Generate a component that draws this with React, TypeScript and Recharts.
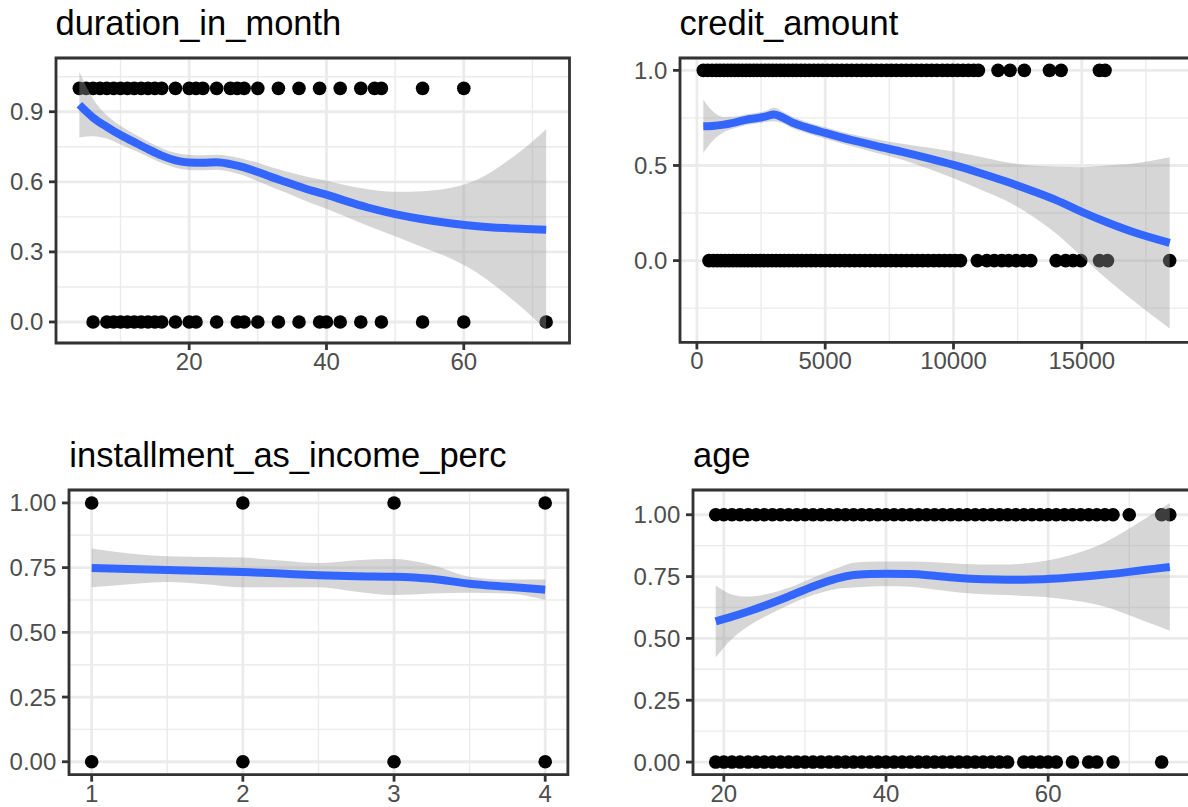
import React from "react";
import {
	ComposedChart,
	Scatter,
	Line,
	Area,
	XAxis,
	YAxis,
	CartesianGrid,
	ReferenceLine,
	ReferenceArea,
} from "recharts";

// ---- duration_in_month ----
const durationOnes = [4, 5, 6, 7, 8, 9, 10, 11, 12, 13, 14, 15, 16, 18, 20, 21, 22, 24, 26, 27, 28, 30, 33, 36, 39, 42, 45, 47, 48, 54, 60];
const durationZeros = [6, 8, 9, 10, 11, 12, 13, 14, 15, 16, 18, 20, 21, 24, 27, 28, 30, 33, 36, 39, 40, 42, 45, 48, 54, 60, 72];
const durationX = [4, 6, 8, 10, 12, 14, 16, 18, 20, 22, 24, 26, 28, 30, 32, 34, 36, 38, 40, 43, 46, 50, 54, 58, 62, 66, 69, 72];
const durationFit = [0.93, 0.875, 0.835, 0.8, 0.77, 0.74, 0.712, 0.692, 0.683, 0.682, 0.684, 0.676, 0.662, 0.642, 0.62, 0.6, 0.58, 0.561, 0.545, 0.516, 0.49, 0.462, 0.44, 0.423, 0.41, 0.402, 0.398, 0.395];
const durationLow = [0.79, 0.795, 0.785, 0.76, 0.735, 0.707, 0.68, 0.66, 0.651, 0.65, 0.652, 0.643, 0.627, 0.602, 0.578, 0.555, 0.53, 0.506, 0.485, 0.448, 0.412, 0.367, 0.32, 0.273, 0.21, 0.122, 0.048, -0.035];
const durationHigh = [1.07, 0.955, 0.885, 0.84, 0.805, 0.773, 0.744, 0.724, 0.715, 0.714, 0.716, 0.709, 0.697, 0.682, 0.662, 0.645, 0.63, 0.616, 0.605, 0.584, 0.568, 0.557, 0.56, 0.573, 0.61, 0.682, 0.748, 0.825];

// ---- credit_amount ----
const creditOnes = [
	250, 420, 590, 760, 900, 1050, 1200, 1340, 1480, 1620, 1770, 1920, 2060, 2210, 2350, 2500, 2660, 2800, 2950, 3100,
	3260, 3410, 3570, 3730, 3880, 4050, 4210, 4380, 4560, 4730, 4900, 5090, 5280, 5460, 5650, 5840, 6030, 6230, 6420,
	6610, 6800, 7000, 7190, 7390, 7580, 7770, 7970, 8160, 8360, 8560, 8750, 8950, 9150, 9350, 9570, 9760, 9960, 10160,
	10370, 10580, 10790, 10970, 11735, 12204, 12760, 13740, 14194, 15686, 15906,
];
const creditZeros = [
	470, 640, 800, 950, 1100, 1250, 1400, 1550, 1700, 1850, 2000, 2150, 2300, 2460, 2610, 2770, 2930, 3090, 3250, 3410,
	3580, 3750, 3920, 4090, 4270, 4450, 4630, 4820, 5000, 5190, 5380, 5570, 5760, 5950, 6150, 6350, 6550, 6750, 6950,
	7150, 7350, 7560, 7760, 7970, 8170, 8380, 8590, 8800, 9010, 9230, 9440, 9650, 9860, 10060, 10272, 10930, 11300,
	11590, 11880, 12150, 12440, 12730, 13010, 14000, 14370, 14660, 14960, 15690, 16000, 18424,
];
const creditX = [250, 600, 1050, 1500, 1900, 2400, 2700, 3000, 3300, 3700, 4200, 5000, 6000, 7000, 8000, 9000, 10000, 11000, 12000, 13000, 14000, 15000, 16000, 17000, 18424];
const creditFit = [0.706, 0.708, 0.715, 0.727, 0.74, 0.75, 0.758, 0.768, 0.755, 0.727, 0.703, 0.671, 0.634, 0.602, 0.572, 0.539, 0.503, 0.462, 0.418, 0.37, 0.318, 0.256, 0.2, 0.15, 0.093];
const creditLow = [0.566, 0.628, 0.675, 0.697, 0.712, 0.722, 0.728, 0.733, 0.723, 0.697, 0.673, 0.641, 0.602, 0.566, 0.53, 0.484, 0.433, 0.377, 0.318, 0.24, 0.143, 0.021, -0.1, -0.21, -0.357];
const creditHigh = [0.846, 0.788, 0.755, 0.757, 0.768, 0.778, 0.788, 0.803, 0.787, 0.757, 0.733, 0.701, 0.666, 0.638, 0.614, 0.594, 0.573, 0.547, 0.518, 0.5, 0.493, 0.491, 0.5, 0.51, 0.543];

// ---- installment_as_income_perc ----
const installmentOnes = [1, 2, 3, 4];
const installmentZeros = [1, 2, 3, 4];
const installmentX = [1, 1.25, 1.5, 1.75, 2, 2.25, 2.5, 2.75, 3, 3.25, 3.5, 3.75, 4];
const installmentFit = [0.749, 0.745, 0.741, 0.737, 0.733, 0.727, 0.721, 0.717, 0.715, 0.707, 0.688, 0.676, 0.665];
const installmentLow = [0.674, 0.686, 0.695, 0.686, 0.674, 0.674, 0.674, 0.657, 0.644, 0.65, 0.653, 0.65, 0.625];
const installmentHigh = [0.824, 0.805, 0.794, 0.791, 0.789, 0.778, 0.768, 0.779, 0.783, 0.76, 0.715, 0.704, 0.704];

// ---- age ----
const ageOnes = [
	19, 20, 21, 22, 23, 24, 25, 26, 27, 28, 29, 30, 31, 32, 33, 34, 35, 36, 37, 38, 39, 40, 41, 42, 43, 44, 45, 46, 47,
	48, 49, 50, 51, 52, 53, 54, 55, 56, 57, 58, 59, 60, 61, 62, 63, 64, 65, 66, 67, 68, 70, 74, 75,
];
const ageZeros = [
	19, 20, 21, 22, 23, 24, 25, 26, 27, 28, 29, 30, 31, 32, 33, 34, 35, 36, 37, 38, 39, 40, 41, 42, 43, 44, 45, 46, 47,
	48, 49, 50, 51, 52, 53, 54, 55, 57, 58, 59, 60, 61, 63, 65, 66, 68, 74,
];
const ageX = [19, 21, 23, 25, 28, 31, 34, 36, 38, 40, 43, 46, 49, 52, 55, 58, 61, 64, 67, 70, 73, 75];
const ageFit = [0.569, 0.588, 0.609, 0.632, 0.67, 0.71, 0.743, 0.756, 0.76, 0.761, 0.76, 0.753, 0.744, 0.739, 0.737, 0.738, 0.742, 0.749, 0.758, 0.769, 0.781, 0.789];
const ageLow = [0.424, 0.498, 0.549, 0.587, 0.635, 0.675, 0.701, 0.706, 0.71, 0.711, 0.709, 0.698, 0.686, 0.679, 0.675, 0.67, 0.662, 0.649, 0.628, 0.594, 0.556, 0.531];
const ageHigh = [0.714, 0.678, 0.669, 0.677, 0.705, 0.745, 0.785, 0.806, 0.81, 0.811, 0.811, 0.808, 0.802, 0.799, 0.799, 0.806, 0.822, 0.849, 0.888, 0.944, 1.006, 1.047];

// axis ticks
const durationTicksX = [20, 40, 60];
const durationMinorX = [10, 30, 50, 70];
const durationTicksY = [0, 0.3, 0.6, 0.9];
const durationMinorY = [0.15, 0.45, 0.75, 1.05];
const creditTicksX = [0, 5000, 10000, 15000];
const creditMinorX = [2500, 7500, 12500, 17500];
const creditTicksY = [0, 0.5, 1];
const creditMinorY = [-0.25, 0.25, 0.75];
const installmentTicksX = [1, 2, 3, 4];
const installmentMinorX = [1.5, 2.5, 3.5];
const unitTicksY = [0, 0.25, 0.5, 0.75, 1];
const unitMinorY = [0.125, 0.375, 0.625, 0.875];
const ageTicksX = [20, 40, 60];
const ageMinorX = [30, 50, 70];

const FONT = "'Liberation Sans', Arial, Helvetica, sans-serif";
const Y_W = 80;
const X_H = 50;
const M_T = 10;
const M_R = 10;

type Frame = { left: number; top: number; width: number; height: number };

interface PanelProps {
	title: string;
	frame: Frame;
	xDomain: [number, number];
	yDomain: [number, number];
	xTicks: number[];
	xMinor: number[];
	yTicks: number[];
	yMinor: number[];
	yDigits: number;
	ones: number[];
	zeros: number[];
	sx: number[];
	fit: number[];
	low: number[];
	high: number[];
}

const Dot = (p: any) => <circle cx={p.cx} cy={p.cy} r={6.8} fill="#000000" />;

function Panel(props: PanelProps) {
	const { frame: f } = props;
	const rows = props.sx.map((x, i) => ({
		x,
		fit: props.fit[i],
		band: [props.low[i], props.high[i]],
	}));
	const points = [
		...props.ones.map(x => ({ x, y: 1 })),
		...props.zeros.map(x => ({ x, y: 0 })),
	];
	const tickStyle = { fill: "#4D4D4D", fontSize: 24, fontFamily: FONT };

	return (
		<>
			<div
				style={{
					position: "absolute",
					left: f.left,
					top: f.top - 52,
					fontSize: 34.5,
					lineHeight: "34.5px",
					fontFamily: FONT,
					color: "#000",
					whiteSpace: "nowrap",
				}}
			>
				{props.title}
			</div>
			<div style={{ position: "absolute", left: f.left - Y_W, top: f.top - M_T }}>
				<ComposedChart
					width={Y_W + f.width + M_R}
					height={M_T + f.height + X_H}
					data={rows}
					margin={{ top: M_T, right: M_R, bottom: 0, left: 0 }}
				>
					<CartesianGrid stroke="#EBEBEB" strokeWidth={2.8} />
					{props.xMinor.map(v => (
						<ReferenceLine key={"vx" + v} x={v} stroke="#EBEBEB" strokeWidth={1.4} zIndex={-90} />
					))}
					{props.yMinor.map(v => (
						<ReferenceLine key={"hy" + v} y={v} stroke="#EBEBEB" strokeWidth={1.4} zIndex={-90} />
					))}
					<XAxis
						dataKey="x"
						type="number"
						domain={props.xDomain}
						allowDataOverflow
						ticks={props.xTicks}
						height={X_H}
						axisLine={false}
						tickLine={{ stroke: "#333333", strokeWidth: 2.8 }}
						tickSize={7}
						tickMargin={3}
						tick={tickStyle}
						interval={0}
					/>
					<YAxis
						type="number"
						domain={props.yDomain}
						allowDataOverflow
						ticks={props.yTicks}
						width={Y_W}
						axisLine={false}
						tickLine={{ stroke: "#333333", strokeWidth: 2.8 }}
						tickSize={7}
						tickMargin={5.7}
						tick={tickStyle}
						interval={0}
						tickFormatter={(v: number) => v.toFixed(props.yDigits)}
					/>
					<Scatter
						data={points}
						dataKey="y"
						shape={Dot}
						isAnimationActive={false}
						zIndex={50}
					/>
					<Area
						dataKey="band"
						type="monotone"
						fill="#999999"
						fillOpacity={0.4}
						stroke="none"
						isAnimationActive={false}
						activeDot={false}
						zIndex={100}
					/>
					<Line
						dataKey="fit"
						type="monotone"
						stroke="#3366FF"
						strokeWidth={8}
						dot={false}
						activeDot={false}
						isAnimationActive={false}
						zIndex={400}
					/>
					<ReferenceArea
						x1={props.xDomain[0]}
						x2={props.xDomain[1]}
						y1={props.yDomain[0]}
						y2={props.yDomain[1]}
						fill="none"
						stroke="#333333"
						strokeWidth={2.8}
						zIndex={500}
					/>
				</ComposedChart>
			</div>
		</>
	);
}

export default function App() {
	return (
		<div
			style={{
				position: "absolute",
				left: 0,
				top: 0,
				width: 1188,
				height: 807,
				overflow: "hidden",
				background: "#FFFFFF",
			}}
		>
			<Panel
				title="duration_in_month"
				frame={{ left: 55.5, top: 58.3, width: 513.5, height: 285 }}
				xDomain={[0.6, 75.4]}
				yDomain={[-0.09, 1.13]}
				xTicks={durationTicksX}
				xMinor={durationMinorX}
				yTicks={durationTicksY}
				yMinor={durationMinorY}
				yDigits={1}
				ones={durationOnes}
				zeros={durationZeros}
				sx={durationX}
				fit={durationFit}
				low={durationLow}
				high={durationHigh}
			/>
			<Panel
				title="credit_amount"
				frame={{ left: 679.6, top: 58.3, width: 513, height: 284.4 }}
				xDomain={[-658, 19333]}
				yDomain={[-0.43, 1.065]}
				xTicks={creditTicksX}
				xMinor={creditMinorX}
				yTicks={creditTicksY}
				yMinor={creditMinorY}
				yDigits={1}
				ones={creditOnes}
				zeros={creditZeros}
				sx={creditX}
				fit={creditFit}
				low={creditLow}
				high={creditHigh}
			/>
			<Panel
				title="installment_as_income_perc"
				frame={{ left: 69.3, top: 490, width: 498.9, height: 284.7 }}
				xDomain={[0.85, 4.15]}
				yDomain={[-0.05, 1.05]}
				xTicks={installmentTicksX}
				xMinor={installmentMinorX}
				yTicks={unitTicksY}
				yMinor={unitMinorY}
				yDigits={2}
				ones={installmentOnes}
				zeros={installmentZeros}
				sx={installmentX}
				fit={installmentFit}
				low={installmentLow}
				high={installmentHigh}
			/>
			<Panel
				title="age"
				frame={{ left: 693, top: 490, width: 499.5, height: 284.7 }}
				xDomain={[16.2, 77.8]}
				yDomain={[-0.051, 1.1]}
				xTicks={ageTicksX}
				xMinor={ageMinorX}
				yTicks={unitTicksY}
				yMinor={unitMinorY}
				yDigits={2}
				ones={ageOnes}
				zeros={ageZeros}
				sx={ageX}
				fit={ageFit}
				low={ageLow}
				high={ageHigh}
			/>
		</div>
	);
}
